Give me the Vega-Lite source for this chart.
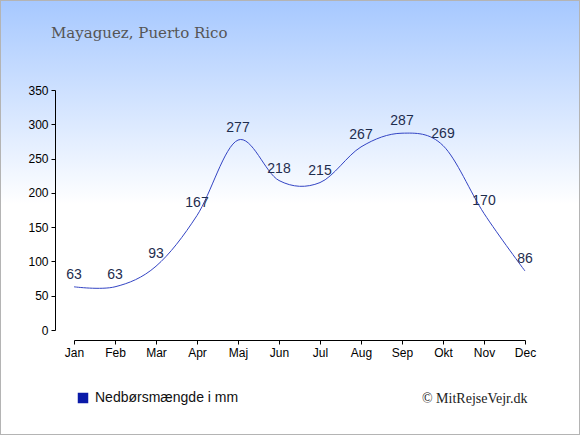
{
  "$schema": "https://vega.github.io/schema/vega-lite/v6.json",
  "width": 580,
  "height": 435,
  "autosize": "none",
  "padding": 0,
  "background": "#ffffff",
  "config": {
    "view": {
      "fill": {"gradient": "linear", "x1": 0, "y1": 0, "x2": 0, "y2": 1, "stops": [{"offset": 0, "color": "#a6c8ff"}, {"offset": 0.47, "color": "#ffffff"}, {"offset": 1, "color": "#ffffff"}]},
      "stroke": "#b4b4b4",
      "strokeWidth": 2
    },
    "axis": {"grid": false, "labelFont": "Liberation Sans", "labelFontSize": 12, "labelColor": "#000000", "domainColor": "#000000", "tickColor": "#000000", "tickSize": 4}
  },
  "title": {
    "text": "Mayaguez, Puerto Rico",
    "anchor": "start",
    "frame": "group",
    "offset": 0,
    "baseline": "alphabetic",
    "dx": 51,
    "dy": 53,
    "font": "DejaVu Serif",
    "fontSize": 15,
    "fontWeight": "normal",
    "color": "#555555"
  },
  "data": {
    "values": [
      {"month": "Jan", "mm": 63},
      {"month": "Feb", "mm": 63},
      {"month": "Mar", "mm": 93},
      {"month": "Apr", "mm": 167},
      {"month": "Maj", "mm": 277},
      {"month": "Jun", "mm": 218},
      {"month": "Jul", "mm": 215},
      {"month": "Aug", "mm": 267},
      {"month": "Sep", "mm": 287},
      {"month": "Okt", "mm": 269},
      {"month": "Nov", "mm": 170},
      {"month": "Dec", "mm": 86}
    ]
  },
  "encoding": {
    "x": {
      "field": "month",
      "type": "ordinal",
      "sort": ["Jan", "Feb", "Mar", "Apr", "Maj", "Jun", "Jul", "Aug", "Sep", "Okt", "Nov", "Dec"],
      "scale": {"type": "point", "range": [74, 525], "padding": 0},
      "axis": {
        "orient": "bottom",
        "offset": -95,
        "labelAngle": 0,
        "labelPadding": 3,
        "title": "© MitRejseVejr.dk",
        "titleX": 527,
        "titleY": 62,
        "titleAlign": "right",
        "titleAnchor": null,
        "titleBaseline": "alphabetic",
        "titleFont": "Liberation Serif",
        "titleFontSize": 14,
        "titleFontWeight": "normal",
        "titleColor": "#222222"
      }
    },
    "y": {
      "field": "mm",
      "type": "quantitative",
      "scale": {"domain": [0, 350], "range": [330, 90], "nice": false, "zero": true},
      "axis": {
        "orient": "left",
        "offset": -55,
        "values": [0, 50, 100, 150, 200, 250, 300, 350],
        "labelPadding": 3,
        "title": null
      }
    }
  },
  "layer": [
    {
      "mark": {"type": "line", "interpolate": "cardinal", "strokeWidth": 1},
      "encoding": {
        "color": {
          "datum": "Nedbørsmængde i mm",
          "scale": {"range": ["#3344c4"]},
          "legend": {
            "orient": "none",
            "legendX": 76,
            "legendY": 391,
            "title": null,
            "symbolType": "square",
            "symbolSize": 110,
            "labelFont": "Liberation Sans",
            "labelFontSize": 14,
            "labelColor": "#111111",
            "labelOffset": 5,
            "encode": {"symbols": {"update": {"fill": {"value": "#0a1aa8"}, "stroke": {"value": "#0a1aa8"}, "strokeWidth": {"value": 0}, "opacity": {"value": 1}}}}
          }
        }
      }
    },
    {
      "mark": {"type": "text", "baseline": "alphabetic", "dy": -8, "font": "Liberation Sans", "fontSize": 14, "color": "#1e2d4e"},
      "encoding": {"text": {"field": "mm", "type": "quantitative"}}
    }
  ]
}
